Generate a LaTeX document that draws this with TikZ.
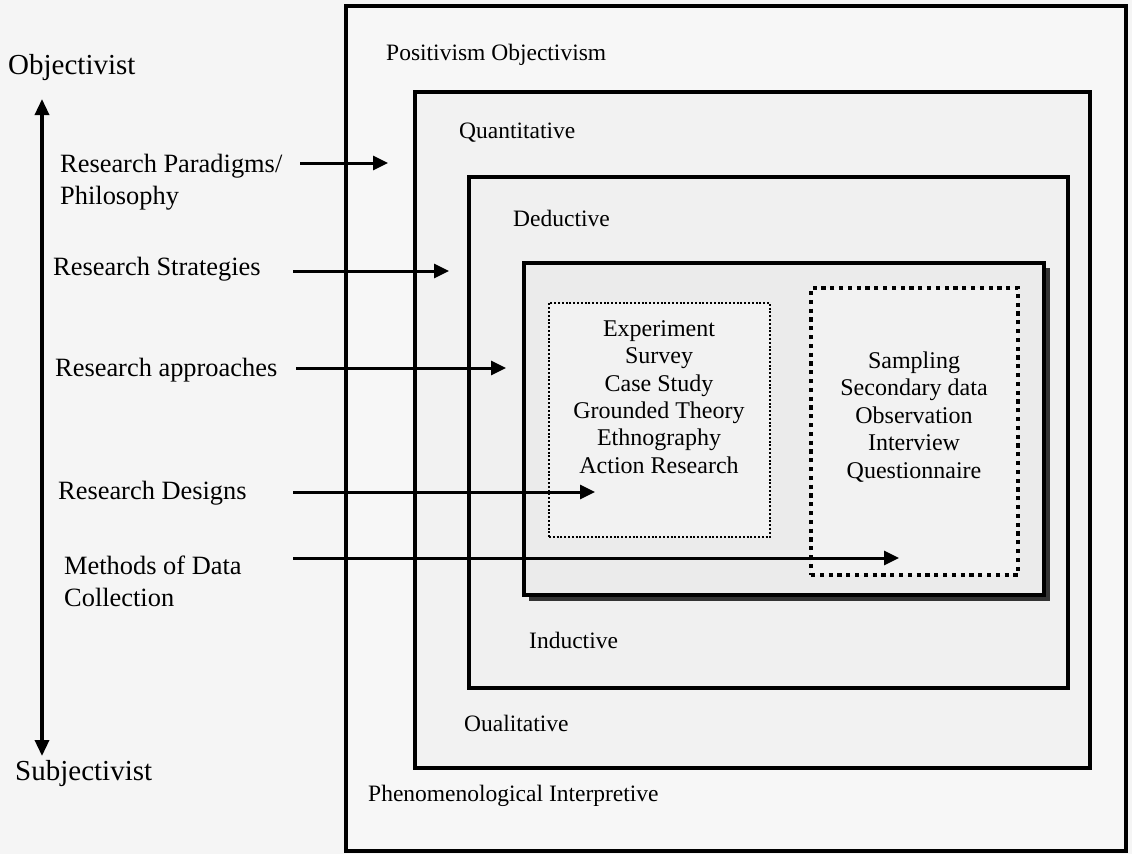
\documentclass[tikz,border=0pt]{standalone}
\usepackage{fontspec}
\setmainfont{Liberation Serif}
\usetikzlibrary{arrows.meta}

\tikzset{
  layer/.style={draw=black, line width=3.6pt, rectangle, inner sep=0pt},
  listbox/.style={rectangle, inner sep=0pt},
  lbl/.style={inner sep=0pt, anchor=west, align=left,
    font=\fontsize{26.4}{32}\selectfont},
  pole/.style={inner sep=0pt, anchor=west, font=\fontsize{29}{34}\selectfont},
  ring/.style={inner sep=0pt, anchor=west, font=\fontsize{23.5}{28}\selectfont},
  items/.style={inner sep=0pt, align=center, font=\fontsize{24}{27.4}\selectfont},
  conn/.style={line width=3pt, -{Triangle[length=15pt,width=14pt]}},
  axis/.style={line width=3.4pt, {Triangle[length=16pt,width=14pt]}-{Triangle[length=16pt,width=14pt]}}
}

\begin{document}
\begin{tikzpicture}[x=1pt,y=-1pt]
  % paper
  \fill[black!4] (0,0) rectangle (1132,854);
  \useasboundingbox (0,0) rectangle (1132,854);

  % nested layers of the research onion
  \node[layer, fill=black!3, minimum width=780pt, minimum height=845pt] (philo) at (736,428.5) {};
  \node[layer, fill=black!5, minimum width=675pt, minimum height=676pt] (quant) at (752.5,430) {};
  \node[layer, fill=black!6, minimum width=599pt, minimum height=511pt] (deduc) at (768.5,432.5) {};
  % innermost frame with drop shadow
  \fill[black!80] (529,268) rectangle (1050,601);
  \node[layer, line width=4pt, fill=black!8, minimum width=520pt, minimum height=332pt] (core) at (784,429) {};

  % strategies and data-collection boxes
  \node[listbox, draw=black, line width=2.2pt, dash pattern=on 2pt off 1.8pt,
        fill=black!5, minimum width=221pt, minimum height=234pt] (strat) at (659.5,420) {};
  \node[listbox, draw=black, line width=4.6pt, dash pattern=on 4.2pt off 4.6pt,
        fill=black!5, minimum width=207pt, minimum height=287pt] (data) at (914.5,431.5) {};

  \node[items] (stratlist) at (659,397) {Experiment\\Survey\\Case Study\\Grounded Theory\\Ethnography\\Action Research};
  \node[items] (datalist) at (914,417) {Sampling\\Secondary data\\Observation\\Interview\\Questionnaire};

  % layer captions
  \node[ring] (posobj) at (386,55) {Positivism Objectivism};
  \node[ring] (quantl) at (459,133) {Quantitative};
  \node[ring] (deducl) at (513,218) {Deductive};
  \node[ring] (inducl) at (529,640) {Inductive};
  \node[ring] (quall) at (464,723) {Oualitative};
  \node[ring] (phenl) at (368,796) {Phenomenological Interpretive};

  % objectivist / subjectivist axis
  \node[pole] (obj) at (8,68) {Objectivist};
  \node[pole] (subj) at (15,774) {Subjectivist};
  \coordinate (axtop) at (42,99);
  \coordinate (axbot) at (42,756);
  \draw[axis] (axbot) -- (axtop);

  % level labels
  \node[lbl] (paradigm) at (60,182) {Research Paradigms/\\Philosophy};
  \node[lbl] (strategy) at (53,269) {Research Strategies};
  \node[lbl] (approach) at (55,370) {Research approaches};
  \node[lbl] (design) at (58,493) {Research Designs};
  \node[lbl] (methods) at (64,581) {Methods of Data\\Collection};

  % pointers into the layers
  \coordinate (p1s) at (300,163); \coordinate (p1e) at (388,163);
  \coordinate (p2s) at (293,271); \coordinate (p2e) at (449,271);
  \coordinate (p3s) at (296,368); \coordinate (p3e) at (506,368);
  \coordinate (p4s) at (293,492); \coordinate (p4e) at (595,492);
  \coordinate (p5s) at (293,558); \coordinate (p5e) at (899,558);
  \draw[conn] (p1s) -- (p1e);
  \draw[conn] (p2s) -- (p2e);
  \draw[conn] (p3s) -- (p3e);
  \draw[conn] (p4s) -- (p4e);
  \draw[conn] (p5s) -- (p5e);
\end{tikzpicture}
\end{document}
